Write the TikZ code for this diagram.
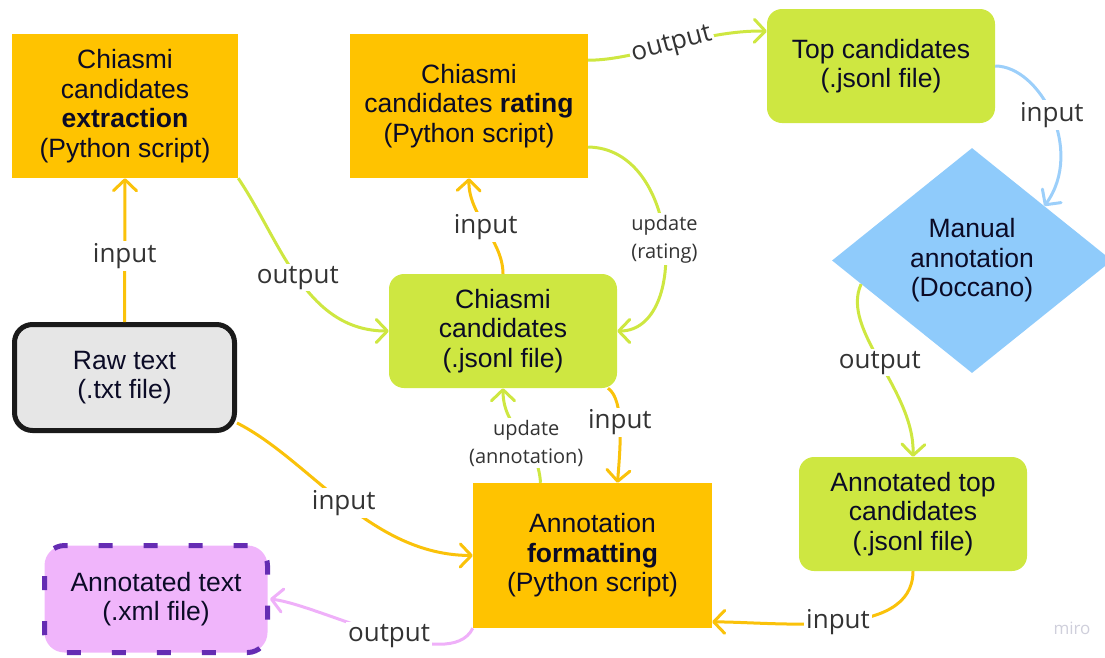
\documentclass[tikz,border=0pt]{standalone}
\usepackage{fontspec}
\setmainfont{Liberation Sans}
\newfontfamily\lblfont{Open Sans}
\usetikzlibrary{arrows.meta,shapes.geometric}

\definecolor{boxorange}{HTML}{FFC300}
\definecolor{boxgreen}{HTML}{CEE741}
\definecolor{boxblue}{HTML}{8FCBFB}
\definecolor{boxpink}{HTML}{F0B5FB}
\definecolor{boxviolet}{HTML}{652CB3}
\definecolor{boxgray}{HTML}{E6E6E6}
\definecolor{rawblack}{HTML}{1A1A1A}
\definecolor{txtnavy}{HTML}{0B0B26}
\definecolor{lblgray}{HTML}{333333}
\definecolor{lnorange}{HTML}{FAC20A}
\definecolor{lngreen}{HTML}{CEE741}
\definecolor{lnblue}{HTML}{9CCFFA}
\definecolor{lnpink}{HTML}{EFB0F9}
\definecolor{wmgray}{HTML}{CFCFDB}

\tikzset{
  box/.style={inner sep=0pt, align=center, text=txtnavy, font=\fontsize{26.5}{29.5}\selectfont},
  script/.style={box, fill=boxorange, minimum width=226pt, minimum height=144pt},
  file/.style={box, fill=boxgreen, rounded corners=15pt, minimum width=228pt, minimum height=114pt},
  conn/.style={line width=3pt, -{Straight Barb[length=11pt,width=23pt,round]}},
  lbl/.style={fill=white, inner sep=2pt, text=lblgray, font=\lblfont\fontsize{26}{28}\selectfont},
  smalllbl/.style={lbl, align=center, font=\lblfont\fontsize{20}{28}\selectfont},
}

\begin{document}
\begin{tikzpicture}[x=1pt,y=1pt,yscale=-1,xscale=1]
\useasboundingbox (0,0) rectangle (1105,657);

% Python scripts
\node[script] (extr) at (125,106) {Chiasmi\\candidates\\\textbf{extraction}\\(Python script)};
\node[script, minimum width=238pt] (rate) at (469,106) {Chiasmi\\candidates \textbf{rating}\\(Python script)};
\node[script, minimum width=239pt, minimum height=145pt] (fmt) at (592.5,555.5) {Annotation\\\textbf{formatting}\\(Python script)};

% Files
\node[file] (cand) at (503,331) {Chiasmi\\candidates\\(.jsonl file)};
\node[file] (top) at (881,66) {Top candidates\\(.jsonl file)};
\node[file] (anntop) at (913,514) {Annotated top\\candidates\\(.jsonl file)};
\node[box, fill=boxgray, draw=rawblack, line width=5pt, rounded corners=18pt, minimum width=220pt, minimum height=106pt] (raw) at (124.5,377.5) {Raw text\\(.txt file)};
\node[box, fill=boxpink, draw=boxviolet, line width=5pt, dash pattern=on 14pt off 31pt, rounded corners=20pt, minimum width=223pt, minimum height=107pt] (anntxt) at (156,599) {Annotated text\\(.xml file)};

% Manual step
\node[box, diamond, fill=boxblue, shape aspect=1.25, minimum width=280pt, minimum height=225pt] (manual) at (972,260.5) {Manual\\annotation\\(Doccano)};

% Watermark
\node[text=wmgray, font=\lblfont\fontsize{17}{17}\selectfont] (miro) at (1072,628) {miro};

% Connectors
\draw[conn, lnorange] (raw.north) -- (extr.south) node[lbl, pos=0.46] {input};
\draw[conn, lngreen] (extr.south east) .. controls (280,240) and (305,331) .. (cand.west) node[lbl, pos=0.5] {output};
\draw[conn, lnorange] (cand.north) .. controls (503,240) and (468,215) .. (rate.south) node[lbl, pos=0.5] {input};
\draw[conn, lngreen] (rate.-19) .. controls (680,148) and (690,331) .. (cand.east) node[smalllbl, pos=0.5] {update\\(rating)};
\draw[conn, lngreen] (rate.21) .. controls (640,60) and (700,30) .. (top.163) node[lbl, rotate=15, pos=0.5] {output};
\draw[conn, lnblue] (top.east) .. controls (1040,66) and (1085,150) .. (manual.37) node[lbl, pos=0.5] {input};
\draw[conn, lngreen] (manual.192) .. controls (840,330) and (915,390) .. (anntop.north) node[lbl, pos=0.5] {output};
\draw[conn, lnorange] (anntop.south) .. controls (913,640) and (780,622) .. (fmt.-29) node[lbl, pos=0.5] {input};
\draw[conn, lnorange] ([xshift=105pt]cand.south) .. controls (625,400) and (620,450) .. ([xshift=25pt]fmt.north) node[lbl, pos=0.45] {input};
\draw[conn, lngreen] ([xshift=-52pt]fmt.north) .. controls (538,440) and (503,430) .. (cand.south) node[smalllbl, pos=0.4] {update\\(annotation)};
\draw[conn, lnorange] (raw.-22) .. controls (310,460) and (370,555) .. (fmt.west) node[lbl, pos=0.5] {input};
\draw[conn, lnpink] (fmt.south west) .. controls (450,675) and (320,605) .. (anntxt.east) node[lbl, pos=0.47] {output};

\end{tikzpicture}
\end{document}
